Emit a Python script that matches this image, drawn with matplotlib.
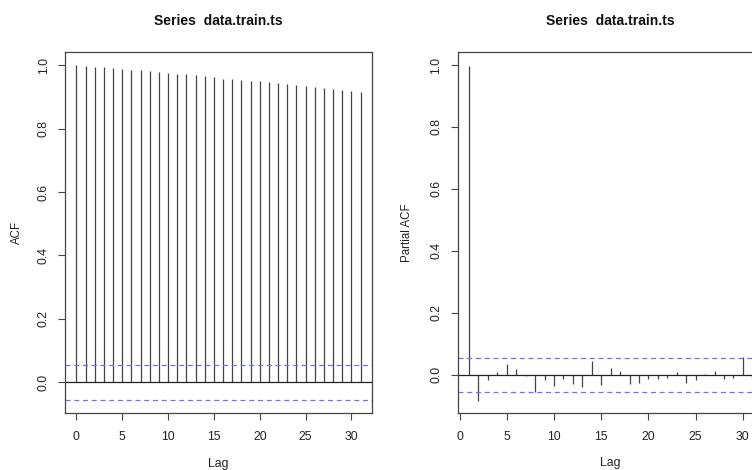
import matplotlib
matplotlib.use("Agg")
import matplotlib.pyplot as plt
import numpy as np

plt.rcParams['font.family'] = ['Liberation Sans', 'DejaVu Sans']

# ---- data ----
acf_lags = list(range(0, 32))
acf_vals = [1.000, 0.998, 0.996, 0.994, 0.991, 0.988, 0.986, 0.984, 0.981, 0.979,
            0.977, 0.974, 0.972, 0.969, 0.965, 0.962, 0.958, 0.956, 0.954, 0.952,
            0.949, 0.946, 0.943, 0.940, 0.937, 0.934, 0.931, 0.928, 0.924, 0.921,
            0.919, 0.916]
pacf_lags = list(range(1, 32))
pacf_vals = [0.998, -0.084, -0.017, 0.009, 0.033, 0.019, -0.006, -0.056, -0.019, -0.037,
             -0.014, -0.032, -0.039, 0.045, -0.035, 0.021, 0.012, -0.029, -0.027, -0.015,
             -0.015, -0.010, 0.009, -0.026, -0.019, 0.001, 0.012, -0.013, -0.012, 0.058,
             -0.010]
conf_limit = 0.055
title_text = "Series  data.train.ts"
x_ticks = [0, 5, 10, 15, 20, 25, 30]
y_ticks = [0.0, 0.2, 0.4, 0.6, 0.8, 1.0]

W, H = 752, 470
fig = plt.figure(figsize=(W / 100, H / 100), dpi=100)

def px_axes(left, top, right, bottom):
    return fig.add_axes([left / W, 1 - bottom / H, (right - left) / W, (bottom - top) / H])

ax1 = px_axes(65, 52, 372, 413)
ax2 = px_axes(457.7, 52, 763.6, 412.7)

bar_color = '#444444'
ci_color = '#7070ff'
frame_color = '#444444'
fs_tick = 8.8
fs_lab = 8.3

def style(ax, lags, vals, ylabel, xlim, ylim):
    ax.vlines(lags, 0, vals, color=bar_color, lw=0.9)
    ax.axhline(0, color='#222222', lw=0.9)
    for s in (conf_limit, -conf_limit):
        ax.axhline(s, color=ci_color, lw=0.9, ls=(0, (4, 3)))
    ax.set_xlim(*xlim)
    ax.set_ylim(*ylim)
    ax.set_xticks(x_ticks)
    ax.set_yticks(y_ticks)
    ax.set_yticklabels([f"{v:.1f}" for v in y_ticks], rotation=90, va='center')
    ax.tick_params(direction='out', length=5, width=0.8, color=frame_color,
                   labelsize=fs_tick, labelcolor='#222222')
    ax.tick_params(axis='x', pad=8)
    ax.tick_params(axis='y', pad=6)
    for sp in ax.spines.values():
        sp.set_color(frame_color)
        sp.set_linewidth(0.9)
    ax.set_title(title_text, fontsize=10, fontweight='bold', pad=19.5, color='#111111')
    ax.set_xlabel("Lag", fontsize=fs_tick, color='#222222')
    ax.set_ylabel(ylabel, fontsize=fs_lab, color='#222222')

style(ax1, acf_lags, acf_vals, "ACF", (-1.24, 32.24), (-0.097, 1.042))
style(ax2, pacf_lags, pacf_vals, "Partial ACF", (-0.2, 32.2), (-0.1232, 1.042))

ax1.xaxis.set_label_coords(0.5, -0.124)
ax1.yaxis.set_label_coords(-0.137, 0.5)
ax2.xaxis.set_label_coords((610.6 - 457.7) / 305.9, -0.124)
ax2.yaxis.set_label_coords(-0.146, 0.5)

fig.savefig("out.png", dpi=100)
